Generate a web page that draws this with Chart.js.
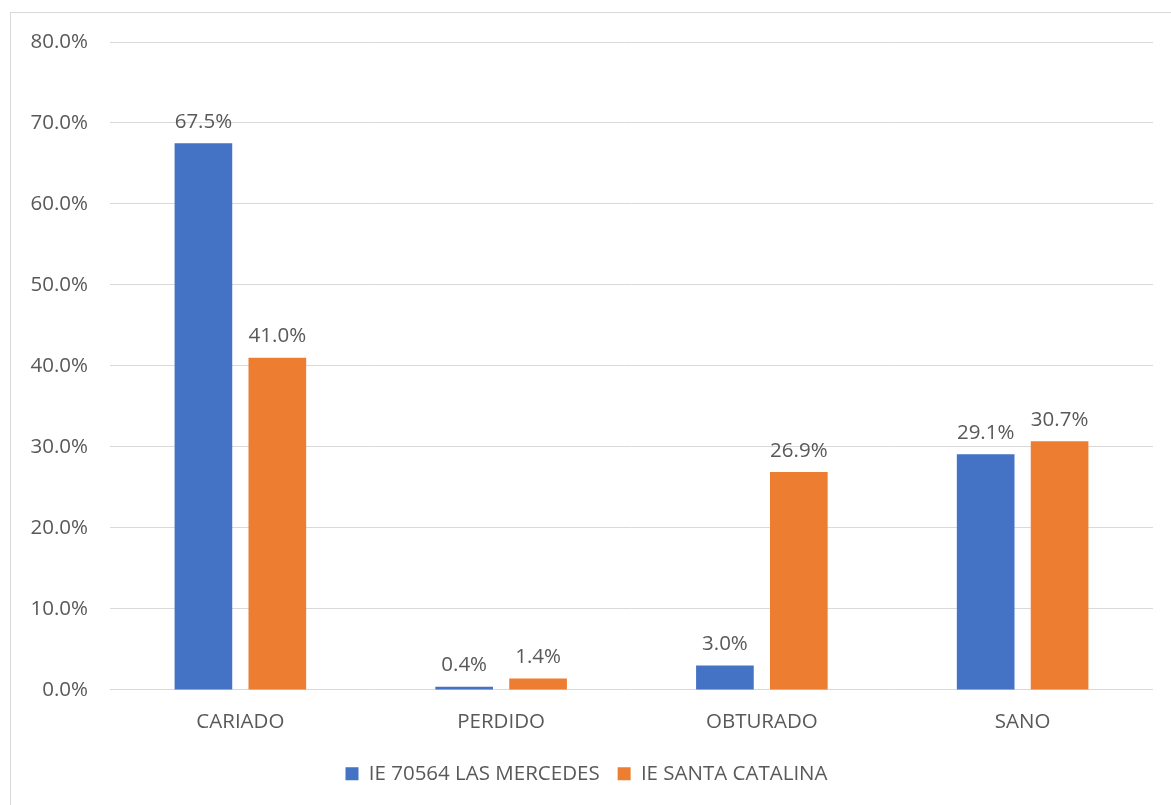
<!DOCTYPE html>
<html>
<head>
<meta charset="utf-8">
<script src="https://cdn.jsdelivr.net/npm/chart.js@4"></script>
<style>
  html, body { margin: 0; padding: 0; background: #fff; overflow: hidden; }
  #frame { position: absolute; left: 10px; top: 12px; width: 1200px; height: 850px; border: 1px solid #d9d9d9; }
  #wrap { position: absolute; left: -11px; top: -13px; width: 1171px; height: 805px; }
</style>
</head>
<body>
<div id="frame"><div id="wrap"><canvas id="chart"></canvas></div></div>
<script>
// datos
const categorias = ['CARIADO', 'PERDIDO', 'OBTURADO', 'SANO'];
const mercedes   = [67.5, 0.4, 3.0, 29.1];
const catalina   = [41.0, 1.4, 26.9, 30.7];
const serieNombres = ['IE 70564 LAS MERCEDES', 'IE SANTA CATALINA'];
const ticksY = [0, 10, 20, 30, 40, 50, 60, 70, 80];

const FONT = "'Open Sans', 'Liberation Sans', sans-serif";
const GRIS = '#595959';
const TAM = 20.5;

// etiquetas encima de cada barra
const etiquetas = {
  id: 'etiquetas',
  afterDatasetsDraw(chart) {
    const c = chart.ctx;
    c.save();
    c.font = TAM + 'px ' + FONT;
    c.fillStyle = GRIS;
    c.textAlign = 'center';
    c.textBaseline = 'bottom';
    chart.data.datasets.forEach((ds, i) => {
      chart.getDatasetMeta(i).data.forEach((bar, j) => {
        c.fillText(ds.data[j].toFixed(1) + '%', bar.x, bar.y - 11);
      });
    });
    c.restore();
  }
};

new Chart(document.getElementById('chart'), {
  type: 'bar',
  data: {
    labels: categorias,
    datasets: [
      { label: serieNombres[0], data: mercedes, backgroundColor: '#4472c4' },
      { label: serieNombres[1], data: catalina, backgroundColor: '#ed7d31' }
    ]
  },
  options: {
    responsive: true,
    maintainAspectRatio: false,
    animation: false,
    categoryPercentage: 0.567,
    barPercentage: 0.78,
    layout: { padding: { left: 20, right: 18, top: 42, bottom: 11 } },
    plugins: {
      tooltip: { enabled: false },
      legend: {
        position: 'bottom',
        labels: {
          font: { size: TAM, family: FONT },
          color: GRIS,
          boxWidth: 13,
          boxHeight: 13,
          padding: 18
        }
      }
    },
    scales: {
      x: {
        grid: { display: false },
        border: { display: false },
        ticks: { font: { size: TAM, family: FONT }, color: GRIS, padding: 11.5 }
      },
      y: {
        min: 0,
        max: 80,
        afterBuildTicks(axis) { axis.ticks = ticksY.map(v => ({ value: v })); },
        afterFit(axis) { axis.width = 90; },
        grid: { color: '#d9d9d9', lineWidth: 1, drawTicks: false },
        border: { display: false },
        ticks: {
          font: { size: TAM, family: FONT },
          color: GRIS,
          padding: 22,
          callback: v => v.toFixed(1) + '%'
        }
      }
    }
  },
  plugins: [etiquetas]
});
</script>
</body>
</html>
